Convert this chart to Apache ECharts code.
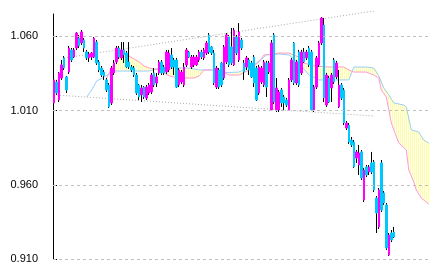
<!DOCTYPE html>
<html><head><meta charset="utf-8">
<script src="https://cdn.jsdelivr.net/npm/echarts@6/dist/echarts.min.js"></script>
<style>html,body{margin:0;padding:0;background:#fff}#c{width:433px;height:273px}</style>
</head><body><div id="c"></div>
<script>
// slots (candles + forward cloud slots)
const slots = [];
for (let i = 0; i < 151; i++) slots.push(String(i));

// [open, close, low, high]
const candles = [
[1.0151,1.0306,1.0124,1.0319],[1.0292,1.0218,1.0205,1.0306],[1.0171,1.0353,1.0157,1.0359],[1.0319,1.0407,1.0306,1.0440],
[1.0454,1.0386,1.0373,1.0467],[1.0326,1.0238,1.0218,1.0333],[1.0359,1.0521,1.0346,1.0535],[1.0508,1.0440,1.0427,1.0521],
[1.0460,1.0508,1.0454,1.0521],[1.0521,1.0622,1.0508,1.0629],[1.0588,1.0535,1.0521,1.0609],[1.0555,1.0629,1.0541,1.0642],
[1.0575,1.0521,1.0494,1.0588],[1.0494,1.0454,1.0440,1.0508],[1.0454,1.0481,1.0427,1.0494],[1.0460,1.0487,1.0440,1.0494],
[1.0460,1.0588,1.0454,1.0595],[1.0561,1.0420,1.0407,1.0575],[1.0427,1.0373,1.0359,1.0440],[1.0386,1.0339,1.0326,1.0400],
[1.0359,1.0333,1.0306,1.0373],[1.0306,1.0238,1.0225,1.0319],[1.0272,1.0124,1.0117,1.0285],[1.0151,1.0386,1.0137,1.0400],
[1.0353,1.0420,1.0339,1.0440],[1.0427,1.0521,1.0413,1.0535],[1.0521,1.0460,1.0447,1.0535],[1.0454,1.0508,1.0440,1.0561],
[1.0508,1.0474,1.0420,1.0561],[1.0487,1.0393,1.0386,1.0501],[1.0427,1.0393,1.0380,1.0561],[1.0393,1.0373,1.0359,1.0407],
[1.0386,1.0339,1.0326,1.0400],[1.0339,1.0218,1.0205,1.0353],[1.0272,1.0191,1.0171,1.0279],[1.0205,1.0252,1.0157,1.0272],
[1.0258,1.0191,1.0178,1.0265],[1.0184,1.0258,1.0171,1.0272],[1.0218,1.0272,1.0205,1.0285],[1.0225,1.0339,1.0211,1.0353],
[1.0353,1.0272,1.0258,1.0386],[1.0285,1.0326,1.0258,1.0353],[1.0353,1.0427,1.0339,1.0440],[1.0427,1.0353,1.0339,1.0440],
[1.0393,1.0353,1.0339,1.0407],[1.0359,1.0494,1.0346,1.0508],[1.0373,1.0487,1.0359,1.0508],[1.0474,1.0393,1.0380,1.0521],
[1.0440,1.0393,1.0339,1.0454],[1.0440,1.0258,1.0252,1.0454],[1.0272,1.0373,1.0258,1.0386],[1.0292,1.0359,1.0279,1.0373],
[1.0272,1.0393,1.0258,1.0420],[1.0407,1.0508,1.0393,1.0521],[1.0494,1.0460,1.0454,1.0501],[1.0393,1.0460,1.0380,1.0474],
[1.0407,1.0460,1.0393,1.0474],[1.0407,1.0460,1.0400,1.0474],[1.0440,1.0494,1.0427,1.0508],[1.0494,1.0460,1.0447,1.0508],
[1.0454,1.0508,1.0440,1.0521],[1.0487,1.0555,1.0474,1.0568],[1.0609,1.0494,1.0481,1.0622],[1.0528,1.0487,1.0474,1.0535],
[1.0487,1.0285,1.0272,1.0508],[1.0258,1.0386,1.0245,1.0400],[1.0373,1.0258,1.0245,1.0386],[1.0420,1.0272,1.0258,1.0427],
[1.0319,1.0528,1.0306,1.0541],[1.0427,1.0609,1.0413,1.0622],[1.0595,1.0407,1.0393,1.0609],[1.0528,1.0420,1.0407,1.0656],
[1.0407,1.0642,1.0400,1.0656],[1.0595,1.0487,1.0474,1.0609],[1.0440,1.0629,1.0427,1.0689],[1.0575,1.0521,1.0508,1.0588],
[1.0420,1.0359,1.0306,1.0440],[1.0393,1.0454,1.0373,1.0467],[1.0440,1.0373,1.0339,1.0454],[1.0420,1.0326,1.0319,1.0434],
[1.0460,1.0285,1.0258,1.0474],[1.0386,1.0171,1.0164,1.0400],[1.0218,1.0393,1.0205,1.0407],[1.0292,1.0386,1.0279,1.0400],
[1.0272,1.0427,1.0258,1.0440],[1.0420,1.0258,1.0191,1.0434],[1.0359,1.0420,1.0346,1.0434],[1.0104,1.0555,1.0097,1.0575],
[1.0609,1.0157,1.0144,1.0622],[1.0104,1.0252,1.0090,1.0319],[1.0104,1.0225,1.0090,1.0238],[1.0238,1.0151,1.0124,1.0252],
[1.0191,1.0151,1.0104,1.0205],[1.0171,1.0137,1.0124,1.0184],[1.0104,1.0306,1.0097,1.0319],[1.0306,1.0440,1.0292,1.0454],
[1.0555,1.0285,1.0272,1.0561],[1.0285,1.0427,1.0272,1.0440],[1.0494,1.0272,1.0258,1.0508],[1.0353,1.0494,1.0339,1.0508],
[1.0494,1.0427,1.0420,1.0521],[1.0454,1.0494,1.0440,1.0508],[1.0521,1.0407,1.0393,1.0535],[1.0494,1.0104,1.0097,1.0508],
[1.0104,1.0258,1.0090,1.0272],[1.0258,1.0454,1.0245,1.0467],[1.0407,1.0555,1.0393,1.0568],[1.0555,1.0723,1.0541,1.0730],
[1.0676,1.0184,1.0157,1.0723],[1.0137,1.0339,1.0124,1.0353],[1.0319,1.0157,1.0151,1.0333],[1.0252,1.0339,1.0157,1.0353],
[1.0440,1.0292,1.0279,1.0454],[1.0326,1.0420,1.0312,1.0434],[1.0124,1.0272,1.0117,1.0373],[1.0272,1.0184,1.0171,1.0285],
[1.0238,1.0016,1.0002,1.0252],[0.9982,1.0016,0.9969,1.0029],[1.0002,0.9888,0.9875,1.0016],[0.9901,0.9868,0.9854,0.9922],
[0.9888,0.9720,0.9713,0.9901],[0.9780,0.9821,0.9747,0.9834],[0.9733,0.9814,0.9666,0.9868],[0.9821,0.9646,0.9632,0.9834],
[0.9497,0.9699,0.9484,0.9713],[0.9720,0.9666,0.9652,0.9733],[0.9686,0.9720,0.9666,0.9733],[0.9747,0.9686,0.9672,0.9821],
[0.9753,0.9565,0.9551,0.9767],[0.9511,0.9410,0.9275,0.9524],[0.9316,0.9565,0.9302,0.9578],[0.9747,0.9430,0.9417,0.9767],
[0.9545,0.9477,0.9464,0.9558],[0.9464,0.9174,0.9161,0.9477],[0.9127,0.9262,0.9120,0.9275],[0.9275,0.9228,0.9214,0.9295],
[0.9282,0.9248,0.9241,0.9316]
];

// cloud lines: [slot, value]
const spanA = [[13,1.0191],[15,1.0238],[17,1.0299],[20,1.0326],[22,1.0346],[24,1.0366],[38,1.0366],[42,1.0386],[54,1.0386],
[58,1.0373],[63,1.0373],[66,1.0353],[74,1.0359],[80,1.0407],[85,1.0474],[90,1.0481],[94,1.0474],[98,1.0420],[102,1.0339],
[106,1.0306],[118,1.0306],[120,1.0393],[125,1.0393],[128,1.0386],[130,1.0333],[132,1.0252],[134,1.0205],[136,1.0151],
[140,1.0137],[141,1.0124],[143,0.9969],[146,0.9955],[148,0.9901],[150,0.9881]];
const spanB = [[21,1.0319],[24,1.0420],[26,1.0454],[30,1.0467],[34,1.0427],[36,1.0400],[38,1.0386],[42,1.0373],[46,1.0333],
[50,1.0319],[56,1.0319],[58,1.0333],[60,1.0373],[66,1.0373],[70,1.0339],[74,1.0339],[78,1.0373],[82,1.0427],[84,1.0474],
[90,1.0487],[94,1.0487],[98,1.0460],[100,1.0420],[104,1.0400],[110,1.0393],[116,1.0393],[118,1.0373],[120,1.0359],
[125,1.0359],[128,1.0339],[130,1.0319],[131,1.0238],[133,1.0191],[134,1.0104],[135,1.0016],[136,0.9969],[138,0.9881],
[141,0.9834],[142,0.9699],[144,0.9619],[145,0.9565],[147,0.9511],[150,0.9470]];

const trendUpper = [[4,1.0454],[128,1.0770]];
const trendLower = [[0,1.0205],[128,1.0063]];

const tickValues = [0.910, 0.960, 1.010, 1.060];

const bodies = candles.map(d => [d[0], d[1], Math.min(d[0], d[1]), Math.max(d[0], d[1])]);

function yAt(pts, x) {
  if (x < pts[0][0] || x > pts[pts.length - 1][0]) return null;
  for (let k = 1; k < pts.length; k++) {
    if (x <= pts[k][0]) {
      const a = pts[k - 1], b = pts[k];
      const t = b[0] === a[0] ? 0 : (x - a[0]) / (b[0] - a[0]);
      return a[1] + t * (b[1] - a[1]);
    }
  }
  return null;
}

const chart = echarts.init(document.getElementById('c'), null, {renderer: 'canvas'});
chart.setOption({
  animation: false,
  grid: {left: 53, right: 3, top: 14, bottom: 14},
  xAxis: {type: 'category', data: slots, boundaryGap: true, show: false},
  yAxis: {
    type: 'value', min: 0.910, max: 1.075,
    axisLine: {show: true, lineStyle: {color: '#000', width: 1}},
    axisTick: {show: true, inside: true, length: 4, customValues: tickValues, lineStyle: {color: '#000'}},
    axisLabel: {customValues: tickValues, margin: 15, color: '#000', fontFamily: 'Liberation Sans, Arial, sans-serif', fontSize: 11,
      formatter: v => v.toFixed(3)},
    splitLine: {show: false}
  },
  series: [
    {type: 'line', data: [], silent: true, symbol: 'none',
      markLine: {silent: true, symbol: 'none', label: {show: false},
        lineStyle: {color: '#c0c0c0', type: [3, 3], width: 1},
        data: tickValues.map(v => ({yAxis: v}))}},
    {type: 'custom', silent: true, z: 1, data: [[0, 1]],
      renderItem: function (params, api) {
        // convert both spans to pixel space, then hatch with 1px vertical lines every 2px
        const pa = spanA.map(p => api.coord(p));
        const pb = spanB.map(p => api.coord(p));
        const x0 = Math.ceil(Math.max(pa[0][0], pb[0][0]));
        const x1 = Math.floor(Math.min(pa[pa.length - 1][0], pb[pb.length - 1][0]));
        const children = [];
        for (let x = x0 + (x0 % 2); x <= x1; x += 2) {
          const ya = yAt(pa, x), yb = yAt(pb, x);
          if (ya == null || yb == null) continue;
          children.push({type: 'line', shape: {x1: x + 0.5, y1: ya, x2: x + 0.5, y2: yb},
            style: {stroke: '#ffff99', lineWidth: 1}});
        }
        return {type: 'group', children: children};
      }},
    {type: 'line', data: spanA, symbol: 'none', silent: true, z: 2, lineStyle: {color: '#99ccff', width: 1}},
    {type: 'line', data: spanB, symbol: 'none', silent: true, z: 2, lineStyle: {color: '#ff99cc', width: 1}},
    {type: 'line', data: trendUpper, symbol: 'none', silent: true, clip: false, z: 2, lineStyle: {color: '#aaaaaa', width: 1, type: [1, 2]}},
    {type: 'line', data: trendLower, symbol: 'none', silent: true, clip: false, z: 2, lineStyle: {color: '#aaaaaa', width: 1, type: [1, 2]}},
    {type: 'candlestick', data: candles, barWidth: 1, z: 3, silent: true,
      itemStyle: {color: '#000', color0: '#000', borderColor: '#000', borderColor0: '#000', borderWidth: 1}},
    {type: 'candlestick', data: bodies, barWidth: 2, z: 4, silent: true,
      itemStyle: {color: '#ff00ff', color0: '#00c8ff', borderColor: '#ff00ff', borderColor0: '#00c8ff', borderWidth: 1}}
  ]
});
</script></body></html>
